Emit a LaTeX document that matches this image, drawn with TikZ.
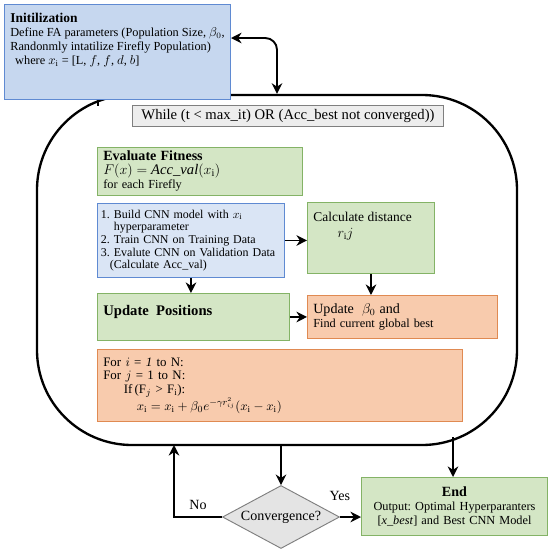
\documentclass[tikz,border=0pt]{standalone}
\usepackage{fontspec}
\setmainfont{Liberation Serif}
\usetikzlibrary{shapes.geometric, arrows.meta, calc}
\usepackage{xcolor}

\definecolor{initfill}{HTML}{C6D7EF}
\definecolor{cnnfill}{HTML}{DAE5F5}
\definecolor{blueline}{HTML}{5F8AD2}
\definecolor{greenfill}{HTML}{D4E6C5}
\definecolor{greenline}{HTML}{84B366}
\definecolor{orangefill}{HTML}{F8CBAD}
\definecolor{orangeline}{HTML}{E08A52}
\definecolor{grayfill}{HTML}{EDEDED}
\definecolor{diafill}{HTML}{E4E4E4}
\definecolor{grayline}{HTML}{7F7F7F}

% text block pinned to the top of a box
\newcommand{\boxtop}[3]{\parbox[t][#1][t]{#2}{#3}}

\begin{document}
\frenchspacing
\begin{tikzpicture}[
    x=0.03cm, y=-0.03cm,   % one unit = one pixel of the sketch
    font=\fontsize{10.5}{12}\selectfont,
    >=Stealth,
    box/.style = {
        draw, line width=0.8pt, anchor=north west,
        align=left, inner xsep=5pt, inner ysep=3pt
    },
    bluebox/.style   = {box, draw=blueline, fill=initfill},
    cnnbox/.style    = {box, draw=blueline, fill=cnnfill},
    greenbox/.style  = {box, draw=greenline, fill=greenfill},
    orangebox/.style = {box, draw=orangeline, fill=orangefill},
    decision/.style = {
        diamond, aspect=1.86, draw=grayline, fill=diafill,
        line width=0.8pt, minimum width=3.51cm, minimum height=1.89cm,
        inner sep=1pt, font=\fontsize{12}{14}\selectfont
    },
    arrow/.style  = {line width=1.6pt, arrows={-Stealth[length=9pt, width=9pt]}},
    twoway/.style = {line width=1.6pt, arrows={Stealth[length=9pt, width=9pt]-Stealth[length=9pt, width=9pt]}},
    answer/.style = {font=\fontsize{12}{14}\selectfont}
]

\useasboundingbox (0,0) rectangle (550,553);

% --- main loop frame ---
\node[draw, line width=2pt, rounded corners=2.85cm,
      minimum width=14.4cm, minimum height=10.5cm] (loop) at (277,270) {};

% --- Nodes placed by absolute coordinates (pixels) ---
\node[bluebox] (init) at (4,4) {\boxtop{2.65cm}{6.43cm}{%
    {\fontsize{11.5}{13}\selectfont\bfseries\rule{0pt}{12pt}Initilization}\\
    Define FA parameters (Population Size, $\beta_0$,\\
    Randonmly intatilize Firefly Population)\\
    \hspace*{0.4em}where $x_\mathrm{i}$ = [L, $f$, $f$, $d$, $b$]}};

\node[box, draw=grayline, fill=grayfill, align=center, inner sep=1pt,
      minimum width=9.33cm, minimum height=0.63cm,
      font=\fontsize{12.5}{13}\selectfont] (while) at (132,105)
    {While (t < max\_it) OR (Acc\_best not converged))};

\node[greenbox, text width=5.8cm, minimum height=1.35cm] (eval) at (97,147)
    {{\fontsize{12}{13}\selectfont\bfseries Evaluate Fitness}\\
     {\fontsize{12.5}{13}\selectfont $F(x) = \mathit{Acc\_val}(x_\mathrm{i})$}\\
     for each Firefly};

\node[cnnbox, text width=5.4cm, inner xsep=3pt, minimum height=2.22cm,
      font=\fontsize{10.2}{10.8}\selectfont] (cnn) at (97,203)
    {1. Build CNN model with $x_\mathrm{i}$\\
     \phantom{1.~}hyperparameter\\
     2. Train CNN on Training Data\\
     3. Evalute CNN on Validation Data\\
     \phantom{1.}(Calculate Acc\_val)};

\node[greenbox, font=\fontsize{11.5}{14}\selectfont] (calc) at (307,202)
    {\boxtop{1.93cm}{3.46cm}{\rule{0pt}{13pt}Calculate distance\\
     \hspace*{1.8em}$r_{\mathrm{i}}j$}};

\node[greenbox] (updpos) at (97,293)
    {\boxtop{1.2cm}{5.41cm}{%
     {\fontsize{12.5}{14}\selectfont\bfseries\rule{0pt}{16pt}Update\ \ Positions}}};

\node[orangebox, text width=5.35cm, minimum height=1.29cm] (updbeta) at (307,295)
    {{\fontsize{12}{14}\selectfont Update\ \ $\beta_0$ and}\\
     Find current global best};

\node[orangebox, text width=10.6cm, minimum height=2.16cm,
      font=\fontsize{11}{11.5}\selectfont] (forloop) at (97,349)
    {For $i$ = \textit{1} to N:\\
     For $j$ = 1 to N:\\
     \hspace*{1.6em}If\,(F$_j$ > F$_\mathrm{i}$):\\
     \hspace*{2.6em}$x_\mathrm{i} = x_\mathrm{i} + \beta_0 e^{-\gamma r_{ij}^2}(x_\mathrm{i} - x_\mathrm{i})$};

\node[decision] (conv) at (281,517) {Convergence?};

\node[greenbox, align=center, text width=5.23cm, minimum height=1.74cm] (endbox) at (361,477)
    {{\fontsize{12}{13}\selectfont\bfseries End}\\
     Output: Optimal Hyperparanters\\
     {[}\textit{x\_best}] and Best CNN Model};

% --- Arrows and labels ---
\coordinate (loopin)  at (98,106);
\coordinate (loopout) at (453,437);
\coordinate (noback)  at (174,445);

\draw[line width=1.6pt] (init.south -| loopin) -- (loopin);
\draw[twoway, rounded corners=10pt] ($(init.north east)+(0,34)$) -| (loop.north);

\draw[arrow] (cnn.east)    -- (cnn.east -| calc.west);
\draw[arrow] (cnn.south)   -- (cnn.south |- updpos.north);
\draw[arrow] (calc.south)  -- (calc.south |- updbeta.north);
\draw[arrow] (updpos.east) -- (updpos.east -| updbeta.west);

\draw[arrow] (loop.south -| conv.north) -- (conv.north);
\draw[arrow] (conv.west) -| node[answer, pos=0.25, above=2pt]{No} (noback);
\draw[arrow] (conv.east) -- node[answer, pos=0, above=10pt]{Yes} (conv.east -| endbox.west);
\draw[arrow] (loopout) -- (loopout |- endbox.north);

\end{tikzpicture}
\end{document}
